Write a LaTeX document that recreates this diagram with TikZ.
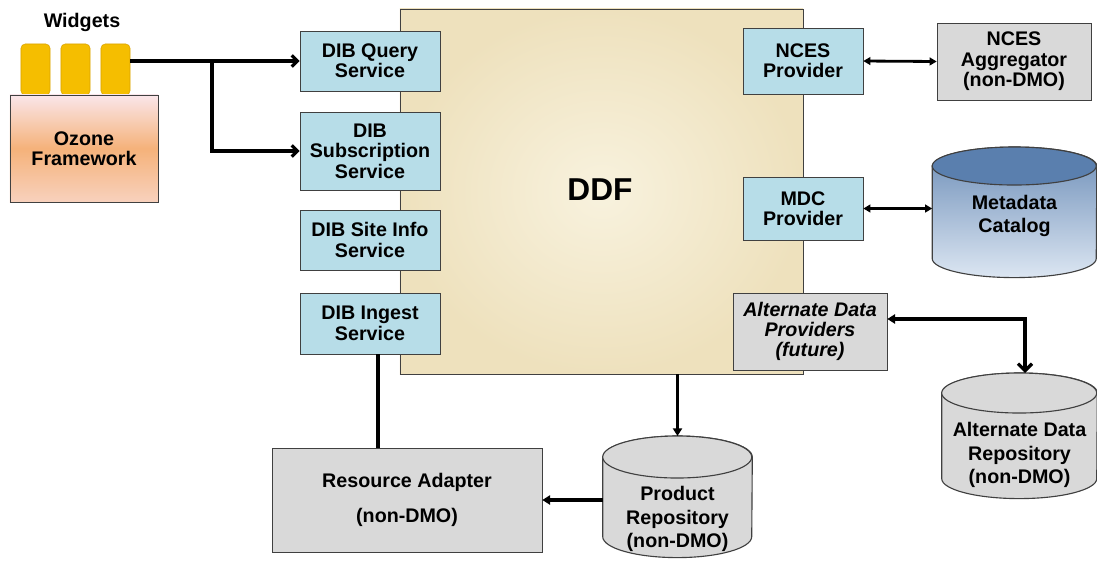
\documentclass[tikz,border=0pt]{standalone}
\usepackage{fontspec}
\setmainfont{Liberation Sans}
\usepackage{tikz}
\usetikzlibrary{arrows.meta}
\definecolor{dibblue}{HTML}{B7DDE8}
\definecolor{boxgray}{HTML}{D9D9D9}
\definecolor{ddfcream}{HTML}{F8F2DE}
\definecolor{ddfbeige}{HTML}{EEE1BD}
\definecolor{ozonepink}{HTML}{FAE6EA}
\definecolor{ozoneorange}{HTML}{F5B27A}
\definecolor{widgetgold}{HTML}{F5BE00}
\definecolor{widgetedge}{HTML}{D9A200}
\definecolor{catdark}{HTML}{5A7FAE}
\definecolor{catlight}{HTML}{DCE6F2}

% a repository drum drawn over a (blank) node: name, x radius, y radius, body fill, top fill
\newcommand{\drawrepo}[5]{%
    \path[draw=black!75, line width=0.8pt, #4] ([yshift=-#3]#1.north west) -- ([yshift=#3]#1.south west)
        arc[start angle=180, end angle=360, x radius=#2, y radius=#3]
        -- ([yshift=-#3]#1.north east)
        arc[start angle=0, end angle=180, x radius=#2, y radius=#3] -- cycle;
    \path[draw=black!75, line width=0.8pt, fill=#5] ([yshift=-#3]#1.north west)
        arc[start angle=180, end angle=-180, x radius=#2, y radius=#3];
}

\begin{document}
\begin{tikzpicture}[x=0.025cm, y=-0.025cm,
    every node/.style={font=\bfseries\fontsize{14}{14.5}\selectfont, align=center},
    dibbox/.style={draw=black!75, fill=dibblue, minimum width=3.5cm, minimum height=1.5cm, inner sep=1pt},
    graybox/.style={draw=black!75, fill=boxgray, inner sep=1pt},
    repo/.style={inner sep=0pt, anchor=north},
    repotext/.style={font=\bfseries\fontsize{14}{16.5}\selectfont},
    barb/.style={line width=2.3pt, -{Straight Barb[length=4pt,width=8pt]}},
    link/.style={line width=2.3pt, -{Triangle[length=5.5pt,width=6.5pt]}},
    both/.style={line width=2pt, {Triangle[length=5pt,width=5.5pt]}-{Triangle[length=5pt,width=5.5pt]}}]

    \useasboundingbox (0,0) rectangle (1097,561);

    % The DDF container
    \node[draw=black!75, inner color=ddfcream, outer color=ddfbeige,
          minimum width=10.075cm, minimum height=9.125cm] (ddf) at (601.5,191.5) {};
    \node[font=\bfseries\fontsize{22.5}{24}\selectfont] (ddflabel) at (600,190) {DDF};

    % Ozone framework and its widgets
    \node (widgets) at (82,22) {Widgets};
    \foreach \i/\x in {1/35.5, 2/75.5, 3/115.5}
        \node[draw=widgetedge, fill=widgetgold, rounded corners=3pt,
              minimum width=0.725cm, minimum height=1.275cm] (wid\i) at (\x,69.5) {};
    \node[draw=black!75, top color=ozonepink, bottom color=ozonepink!60!ozoneorange, middle color=ozoneorange,
          minimum width=3.7cm, minimum height=2.675cm] (ozone) at (84,148.5) {Ozone\\Framework};

    % DIB services on the left edge of DDF
    \node[dibbox] (query) at (370,61) {DIB Query\\Service};
    \node[dibbox, minimum height=1.95cm] (subscr) at (370,151) {DIB\\Subscription\\Service};
    \node[dibbox] (siteinfo) at (370,240) {DIB Site Info\\Service};
    \node[dibbox, minimum height=1.525cm] (ingest) at (370,323.5) {DIB Ingest\\Service};

    % Providers on the right edge of DDF
    \node[dibbox, minimum width=3cm, minimum height=1.65cm] (ncesprov) at (803,61) {NCES\\Provider};
    \node[dibbox, minimum width=3cm, minimum height=1.575cm] (mdcprov) at (803,208.5) {MDC\\Provider};
    \node[graybox, minimum width=3.85cm, minimum height=1.925cm] (altprov) at (810,331.5)
        {\itshape Alternate Data\\\itshape Providers\\\itshape (future)};

    % External systems
    \node[graybox, minimum width=3.85cm, minimum height=1.925cm] (ncesagg) at (1014,61.5)
        {NCES\\Aggregator\\(non-DMO)};
    \node[repo, minimum width=4.1cm, minimum height=3.25cm] (mdccat) at (1014.5,147) {};
    \drawrepo{mdccat}{2.05cm}{0.475cm}{top color=catdark!85!catlight, bottom color=catlight}{catdark}
    \node[repotext] (mdccatlabel) at (1014.5,216) {Metadata\\Catalog};
    \node[repo, minimum width=3.875cm, minimum height=3.125cm] (altrepo) at (1019.5,373) {};
    \drawrepo{altrepo}{1.9375cm}{0.5cm}{fill=boxgray}{boxgray}
    \node[repotext] (altrepolabel) at (1019.5,455) {Alternate Data\\Repository\\(non-DMO)};
    \node[repo, minimum width=3.725cm, minimum height=3.025cm] (prodrepo) at (677.5,436) {};
    \drawrepo{prodrepo}{1.8625cm}{0.525cm}{fill=boxgray}{boxgray}
    \node[repotext] (prodrepolabel) at (677.5,519) {Product\\Repository\\(non-DMO)};
    \node[graybox, minimum width=6.75cm, minimum height=2.6cm] (resadapt) at (407,500)
        {Resource Adapter\\[10pt](non-DMO)};

    % Connectors
    \coordinate (split) at (212,61);
    \coordinate (altbend) at (1025,319);
    \draw[barb] (wid3.east |- query.west) -- (query.west);
    \draw[barb] (split) |- (subscr.west);
    \draw[both] (ncesprov.east) -- (ncesagg.west);
    \draw[both] (mdcprov.east) -- (mdcprov.east -| mdccat.west);
    \draw[line width=2.3pt, {Triangle[length=5.5pt,width=6.5pt]}-{Straight Barb[length=5pt,width=10pt]}]
        (altbend -| altprov.east) -- (altbend) -- (altbend |- altrepo.north);
    \draw[link] (ddf.south -| prodrepo.north) -- (prodrepo.north);
    \draw[link] (prodrepo.west |- resadapt.east) -- (resadapt.east);
    \draw[line width=2.3pt] ([xshift=0.2cm]ingest.south) -- ([xshift=0.2cm]ingest.south |- resadapt.north);

\end{tikzpicture}
\end{document}
